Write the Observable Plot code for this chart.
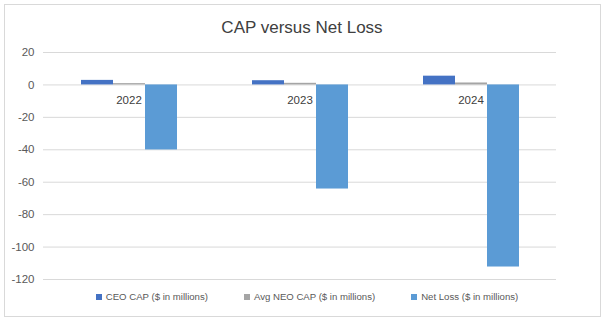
<!DOCTYPE html>
<html><head><meta charset="utf-8">
<script src="https://cdn.jsdelivr.net/npm/d3@7"></script>
<script src="https://cdn.jsdelivr.net/npm/@observablehq/plot@0.6"></script>
<style>
body{margin:0;background:#fff;}
#wrap{position:relative;width:608px;height:323px;overflow:hidden;font-family:"Liberation Sans",sans-serif;}
#frame{position:absolute;left:4px;top:4px;width:595px;height:311px;border:1px solid #d9d9d9;}
#title{position:absolute;left:0;width:604px;top:18px;text-align:center;font-size:17px;color:#404040;}
#chart{position:absolute;left:0;top:0;}
#legend{position:absolute;left:0;width:614px;top:291px;display:flex;justify-content:center;gap:36px;font-size:9.6px;color:#595959;}
#legend span.sw{display:inline-block;width:6px;height:6px;margin-right:4px;vertical-align:0px;}
</style></head>
<body>
<div id="wrap">
<div id="frame"></div>
<div id="title">CAP versus Net Loss</div>
<div id="chart"></div>
<div id="legend"></div>
</div>
<script>
const years = ["2022", "2023", "2024"];
const seriesNames = ["CEO CAP ($ in millions)", "Avg NEO CAP ($ in millions)", "Net Loss ($ in millions)"];
const ceoCap = [2.8, 2.6, 5.4];
const avgNeoCap = [0.8, 1.0, 1.2];
const netLoss = [-40.1, -64.2, -112.3];
const yTicks = [20, 0, -20, -40, -60, -80, -100, -120];
const colors = ["#4472C4", "#A5A5A5", "#5B9BD5"];

const rows = [];
years.forEach((yr, i) => {
  rows.push({year: yr, series: seriesNames[0], value: ceoCap[i]});
  rows.push({year: yr, series: seriesNames[1], value: avgNeoCap[i]});
  rows.push({year: yr, series: seriesNames[2], value: netLoss[i]});
});

const chart = Plot.plot({
  width: 608,
  height: 323,
  marginTop: 52,
  marginBottom: 44,
  marginLeft: 42,
  marginRight: 51,
  style: {fontFamily: '"Liberation Sans",sans-serif', fontSize: "11.5px", color: "#595959", background: "transparent"},
  fx: {domain: years, padding: 0, axis: null},
  x: {domain: seriesNames, paddingInner: 0, paddingOuter: 1.1, axis: null},
  y: {domain: [-120, 20], ticks: yTicks, tickSize: 0, tickPadding: 9, label: null, tickFormat: d => String(d)},
  color: {domain: seriesNames, range: colors},
  marks: [
    Plot.ruleY(yTicks, {stroke: "#d9d9d9", strokeWidth: 1}),
    Plot.barY(rows, {fx: "year", x: "series", y: "value", fill: "series", inset: 0}),
    Plot.text(years, {fx: d => d, y: 0, text: d => d, dy: 15, fill: "#404040", fontSize: 11.5})
  ]
});
document.getElementById("chart").appendChild(chart);

const legend = document.getElementById("legend");
seriesNames.forEach((s, i) => {
  const item = document.createElement("div");
  item.innerHTML = `<span class="sw" style="background:${colors[i]}"></span>${s}`;
  legend.appendChild(item);
});
</script>
</body></html>
